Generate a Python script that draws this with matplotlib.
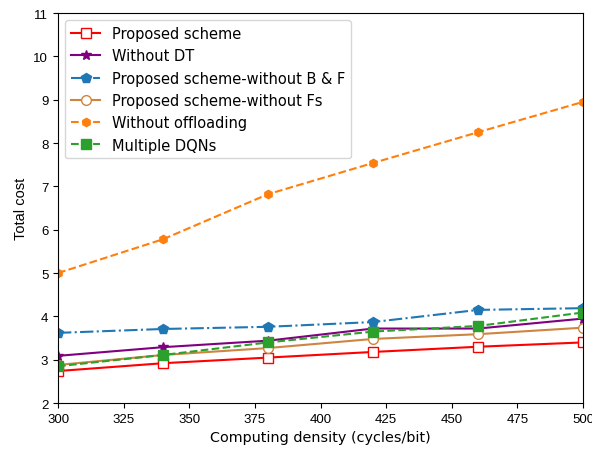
import matplotlib
matplotlib.use("Agg")
import matplotlib.pyplot as plt

x = [300, 340, 380, 420, 460, 500]
proposed = [2.74, 2.92, 3.05, 3.18, 3.30, 3.40]
without_dt = [3.09, 3.29, 3.44, 3.72, 3.72, 3.95]
without_bf = [3.62, 3.71, 3.76, 3.87, 4.15, 4.19]
without_fs = [2.88, 3.11, 3.27, 3.48, 3.59, 3.74]
without_off = [5.0, 5.78, 6.82, 7.54, 8.25, 8.95]
multi_dqn = [2.85, 3.11, 3.40, 3.65, 3.78, 4.09]

fig = plt.figure(figsize=(5.92, 4.52), dpi=100)
ax = fig.add_axes([0.098, 0.106, 0.887, 0.863])

ax.plot(x, proposed, '-', color='red', marker='s', mfc='white', mec='red', ms=7, lw=1.5, label='Proposed scheme')
ax.plot(x, without_dt, '-', color='purple', marker='*', ms=7, lw=1.5, label='Without DT')
ax.plot(x, without_bf, '-.', color='tab:blue', marker='p', ms=7, lw=1.5, label='Proposed scheme-without B & F')
ax.plot(x, without_fs, '-', color='peru', marker='o', mfc='white', mec='peru', ms=7, lw=1.5, label='Proposed scheme-without Fs')
ax.plot(x, without_off, '--', color='tab:orange', marker='h', ms=6, lw=1.5, label='Without offloading')
ax.plot(x, multi_dqn, '--', color='tab:green', marker='s', ms=7, lw=1.5, label='Multiple DQNs')

ax.set_xlim(300, 500)
ax.set_ylim(2, 11)
ax.set_xticks([300, 325, 350, 375, 400, 425, 450, 475, 500])
ax.set_yticks(range(2, 12))
for lab in ax.get_xticklabels() + ax.get_yticklabels():
    lab.set_fontfamily('Liberation Sans')
    lab.set_fontsize(9.5)
ax.set_xlabel('Computing density (cycles/bit)', fontsize=10.4)
ax.set_ylabel('Total cost', fontsize=10.5, fontfamily='Liberation Sans')
ax.legend(loc='upper left', fontsize=10.5, handlelength=2.0, labelspacing=0.5)

fig.savefig('out.png', dpi=100)
